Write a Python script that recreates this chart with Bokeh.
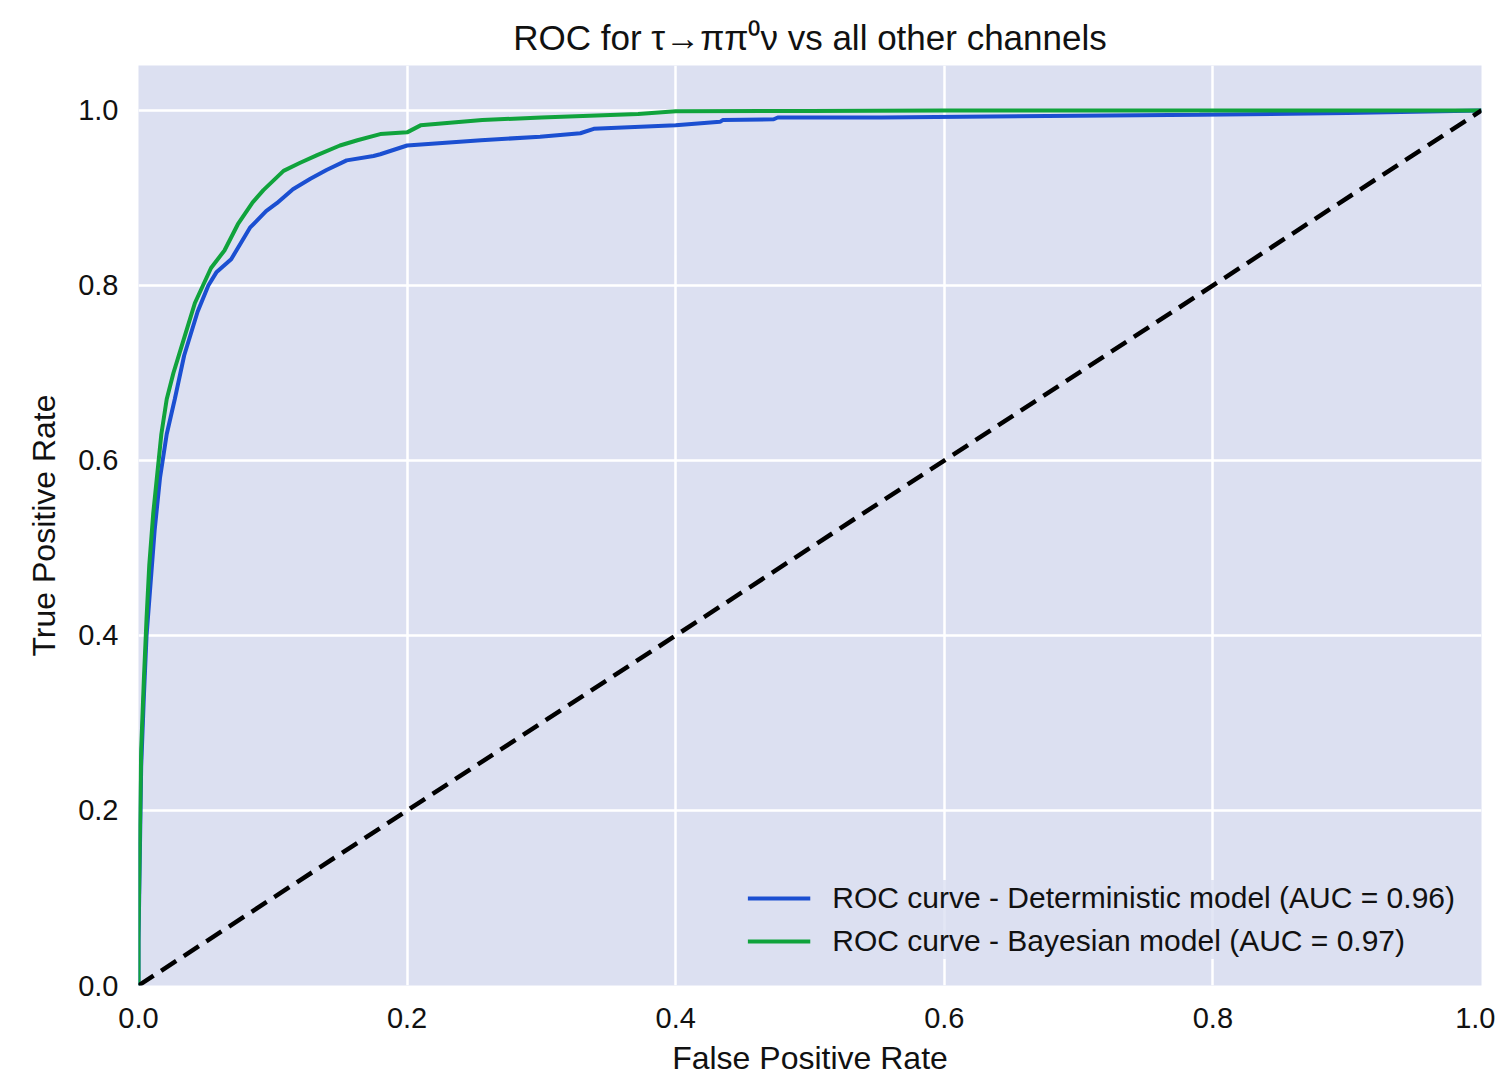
from bokeh.plotting import figure
from bokeh.models import Range1d, FixedTicker, Legend, LegendItem, PrintfTickFormatter
from bokeh.embed import file_html
from bokeh.resources import INLINE

# Deterministic model ROC
det_fpr = [0, 0, 0.001, 0.002, 0.004, 0.006, 0.009, 0.012, 0.016, 0.021, 0.027, 0.034,
           0.044, 0.052, 0.058, 0.069, 0.083, 0.095, 0.103, 0.115, 0.128, 0.14, 0.155,
           0.175, 0.18, 0.2, 0.255, 0.299, 0.329, 0.339, 0.4, 0.433, 0.435, 0.473, 0.476,
           0.553, 0.7, 0.79, 0.9, 1.0]
det_tpr = [0, 0.05, 0.15, 0.25, 0.33, 0.40, 0.46, 0.52, 0.58, 0.63, 0.67, 0.72,
           0.77, 0.80, 0.815, 0.83, 0.866, 0.885, 0.894, 0.91, 0.922, 0.932, 0.943,
           0.948, 0.950, 0.960, 0.966, 0.970, 0.974, 0.979, 0.983, 0.987, 0.989, 0.990, 0.992,
           0.992, 0.994, 0.995, 0.997, 1.0]

# Bayesian model ROC
bay_fpr = [0, 0, 0.001, 0.002, 0.004, 0.006, 0.008, 0.011, 0.013, 0.017, 0.021, 0.026,
           0.031, 0.037, 0.042, 0.048, 0.054, 0.064, 0.074, 0.085, 0.093, 0.108, 0.12,
           0.133, 0.15, 0.163, 0.18, 0.2, 0.21, 0.256, 0.3, 0.372, 0.4, 0.5, 0.6, 0.8, 1.0]
bay_tpr = [0, 0.06, 0.17, 0.27, 0.35, 0.42, 0.48, 0.54, 0.57, 0.63, 0.67, 0.70,
           0.725, 0.755, 0.78, 0.80, 0.82, 0.84, 0.87, 0.895, 0.909, 0.931, 0.94,
           0.949, 0.96, 0.966, 0.973, 0.975, 0.983, 0.989, 0.992, 0.996, 0.999, 0.9995,
           1.0, 1.0, 1.0]

chance = [0.0, 1.0]
ticks = [0.0, 0.2, 0.4, 0.6, 0.8, 1.0]

FONT = "Liberation Sans"
BG = "#dce0f1"
TXT = "#111111"

p = figure(width=1495, height=1079, output_backend="svg", toolbar_location=None,
           x_range=Range1d(0, 1), y_range=Range1d(0, 1.0514),
           min_border_left=138, min_border_right=14, min_border_top=65, min_border_bottom=94,
           title="ROC for τ→ππ⁰ν vs all other channels")

p.background_fill_color = BG
p.border_fill_color = "white"
p.outline_line_color = None

p.title.align = "center"
p.title.text_font = FONT
p.title.text_font_size = "35px"
p.title.text_font_style = "normal"
p.title.text_color = TXT
p.title.standoff = 18

for ax in (p.xaxis, p.yaxis):
    ax.ticker = FixedTicker(ticks=ticks)
    ax.formatter = PrintfTickFormatter(format="%.1f")
    ax.axis_line_color = None
    ax.major_tick_line_color = None
    ax.minor_tick_line_color = None
    ax.major_label_text_font = FONT
    ax.major_label_text_font_size = "29px"
    ax.major_label_text_color = TXT
    ax.axis_label_text_font = FONT
    ax.axis_label_text_font_size = "32px"
    ax.axis_label_text_font_style = "normal"
    ax.axis_label_text_color = TXT

p.xaxis.axis_label = "False Positive Rate"
p.yaxis.axis_label = "True Positive Rate"
p.xaxis.major_label_standoff = 16
p.yaxis.major_label_standoff = 14
p.xaxis.axis_label_standoff = 9
p.yaxis.axis_label_standoff = 13

p.grid.grid_line_color = "white"
p.grid.grid_line_width = 2.5
p.xgrid.ticker = FixedTicker(ticks=ticks)
p.ygrid.ticker = FixedTicker(ticks=ticks)

r_det = p.line(det_fpr, det_tpr, line_color="#1b4fd1", line_width=4)
r_bay = p.line(bay_fpr, bay_tpr, line_color="#10a33c", line_width=4)
p.line(chance, chance, line_color="black", line_width=4.5, line_dash="18 9")

legend = Legend(items=[
    LegendItem(label="ROC curve - Deterministic model (AUC = 0.96)", renderers=[r_det]),
    LegendItem(label="ROC curve - Bayesian model (AUC = 0.97)", renderers=[r_bay]),
], location="bottom_right")
legend.label_text_font = FONT
legend.label_text_font_size = "30px"
legend.label_text_color = TXT
legend.background_fill_color = BG
legend.background_fill_alpha = 0.8
legend.border_line_color = None
legend.glyph_width = 63
legend.glyph_height = 36
legend.label_height = 36
legend.label_standoff = 22
legend.spacing = 7
legend.padding = 8
legend.margin = 26
p.add_layout(legend)

open("out.html", "w").write(file_html(p, INLINE))
